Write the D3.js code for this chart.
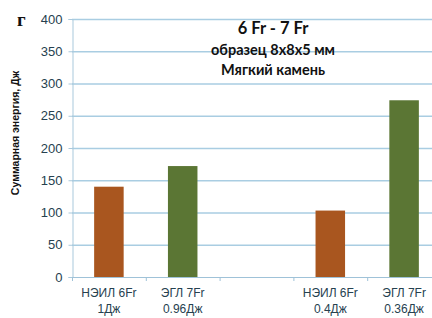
<!DOCTYPE html>
<html>
<head>
<meta charset="utf-8">
<script src="https://cdn.jsdelivr.net/npm/d3@7"></script>
<style>
  body { margin: 0; background: #fff; }
  svg { display: block; }
</style>
</head>
<body>
<div id="chart"></div>
<script>
// data
var categories = ["a", "b", "gap", "c", "d"];
var labelTop = ["НЭИЛ 6Fr", "ЭГЛ 7Fr", "", "НЭИЛ 6Fr", "ЭГЛ 7Fr"];
var labelBottom = ["1Дж", "0.96Дж", "", "0.4Дж", "0.36Дж"];
var energy = [140, 172, null, 103, 274];
var barColors = ["#a9561f", "#5b7634", null, "#a9561f", "#5b7634"];
var yTicks = [0, 50, 100, 150, 200, 250, 300, 350, 400];
var titleLines = ["6 Fr - 7 Fr", "образец 8х8х5 мм", "Мягкий камень"];

var width = 432,
    height = 318,
    margin = {top: 19, right: -9, bottom: 41, left: 72};

var svg = d3.select("#chart").append("svg")
    .attr("width", width)
    .attr("height", height);

var x = d3.scaleBand()
    .domain(categories)
    .range([margin.left, width - margin.right])
    .paddingInner(0.6)
    .paddingOuter(0.3);

var y = d3.scaleLinear()
    .domain([0, 400])
    .range([height - margin.bottom, margin.top]);

// gridlines
svg.append("g")
    .selectAll("line")
    .data(yTicks.slice(1))
    .enter().append("line")
    .attr("x1", margin.left)
    .attr("x2", width)
    .attr("y1", d => y(d) + 0.5)
    .attr("y2", d => y(d) + 0.5)
    .attr("stroke", "#a9cde2")
    .attr("stroke-width", 1.3);

// y axis
var yAxis = svg.append("g")
    .attr("transform", "translate(" + (margin.left + 0.5) + ",0)")
    .call(d3.axisLeft(y).tickValues(yTicks).tickSize(4).tickPadding(6));
yAxis.select(".domain").attr("stroke", "#a9c9dc");
yAxis.selectAll(".tick line").attr("stroke", "#a9c9dc");
yAxis.selectAll("text")
    .attr("fill", "#26414f")
    .style("font-family", "Liberation Sans, Arial, sans-serif")
    .style("font-size", "13px");

// x axis
var x0 = d3.scaleLinear().domain([0, categories.length]).range([margin.left, width - margin.right]);
svg.append("line")
    .attr("x1", margin.left).attr("x2", width)
    .attr("y1", y(0) + 0.5).attr("y2", y(0) + 0.5)
    .attr("stroke", "#9fc2d8").attr("stroke-width", 1.2);
svg.append("g")
    .selectAll("line")
    .data(d3.range(categories.length + 1))
    .enter().append("line")
    .attr("x1", d => x0(d) + 0.5).attr("x2", d => x0(d) + 0.5)
    .attr("y1", y(0)).attr("y2", y(0) + 4)
    .attr("stroke", "#9fc2d8");

// bars
svg.append("g")
    .selectAll("rect")
    .data(categories.map((c, i) => ({c: c, v: energy[i], col: barColors[i]})).filter(d => d.v != null))
    .enter().append("rect")
    .attr("x", d => x(d.c))
    .attr("y", d => y(d.v))
    .attr("width", x.bandwidth())
    .attr("height", d => y(0) - y(d.v))
    .attr("fill", d => d.col);

// category labels
var lab = svg.append("g")
    .selectAll("text")
    .data(categories.map((c, i) => ({c: c, t: labelTop[i], b: labelBottom[i]})))
    .enter().append("text")
    .attr("text-anchor", "middle")
    .attr("fill", "#26414f")
    .style("font-family", "Liberation Sans, Arial, sans-serif")
    .style("font-size", "12px");
lab.append("tspan")
    .attr("x", d => x(d.c) + x.bandwidth() / 2)
    .attr("y", y(0) + 20)
    .text(d => d.t);
lab.append("tspan")
    .attr("x", d => x(d.c) + x.bandwidth() / 2)
    .attr("y", y(0) + 36)
    .text(d => d.b);

// title block
svg.append("g")
    .selectAll("text")
    .data(titleLines)
    .enter().append("text")
    .attr("x", 273)
    .attr("y", (d, i) => 34 + i * 20.5)
    .attr("text-anchor", "middle")
    .attr("fill", "#111")
    .style("font-family", "Lato, Open Sans, sans-serif")
    .style("font-weight", "bold")
    .style("font-size", (d, i) => i == 0 ? "16.5px" : "14.5px")
    .text(d => d);

// y axis title
svg.append("text")
    .attr("transform", "translate(19,133) rotate(-90)")
    .attr("text-anchor", "middle")
    .attr("fill", "#111")
    .style("font-family", "Liberation Sans, Arial, sans-serif")
    .style("font-weight", "bold")
    .style("font-size", "10.5px")
    .text("Суммарная энергия, Дж");

// panel letter
svg.append("text")
    .attr("x", 17)
    .attr("y", 26)
    .attr("fill", "#111")
    .style("font-family", "Liberation Serif, serif")
    .style("font-weight", "bold")
    .style("font-size", "19px")
    .text("г");
</script>
</body>
</html>
